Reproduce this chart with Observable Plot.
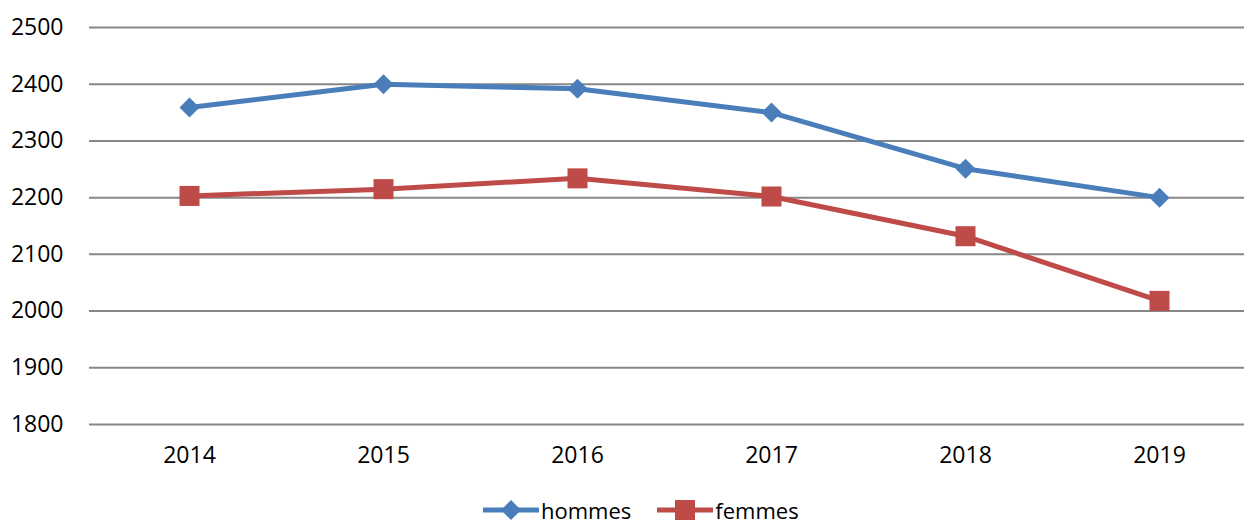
<!DOCTYPE html>
<html>
<head>
<meta charset="utf-8">
<script src="https://cdn.jsdelivr.net/npm/d3@7"></script>
<script src="https://cdn.jsdelivr.net/npm/@observablehq/plot@0.6"></script>
<style>
  html, body { margin: 0; padding: 0; background: #fff; }
  body { width: 1244px; height: 526px; position: relative; overflow: hidden; font-family: "Open Sans", sans-serif; }
  #legend { position: absolute; left: 483px; top: 497px; height: 26px; display: flex; align-items: center; font-size: 22px; line-height: 24px; color: #000; }
  #legend .item { display: flex; align-items: center; margin-right: 26px; }
  #legend svg { display: block; }
</style>
</head>
<body>
<div id="chart"></div>
<div id="legend"></div>
<script>
const years = ["2014", "2015", "2016", "2017", "2018", "2019"];
const hommes = [2359, 2400, 2392, 2350, 2251, 2200];
const femmes = [2203, 2215, 2234, 2202, 2132, 2018];
const yTicks = [1800, 1900, 2000, 2100, 2200, 2300, 2400, 2500];
const seriesNames = ["hommes", "femmes"];
const seriesColors = ["#4A7EBB", "#BE4B48"];
const seriesSymbols = ["diamond2", "square"];

const data = [];
years.forEach((y, i) => {
  data.push({year: y, value: hommes[i], serie: "hommes"});
  data.push({year: y, value: femmes[i], serie: "femmes"});
});

const chart = Plot.plot({
  width: 1244,
  height: 490,
  marginLeft: 89,
  marginRight: 0,
  marginTop: 27,
  marginBottom: 66,
  style: {fontSize: "23px", fontFamily: "'Open Sans', sans-serif", color: "#000", background: "#fff"},
  x: {type: "point", domain: years, range: [187, 1161], padding: 0, label: null, tickSize: 0, tickPadding: 22},
  y: {domain: [1800, 2500], ticks: yTicks, tickFormat: d => String(d), label: null, tickSize: 0, tickPadding: 26},
  color: {domain: seriesNames, range: seriesColors},
  symbol: {domain: seriesNames, range: seriesSymbols},
  marks: [
    Plot.ruleY(yTicks, {stroke: "#878787", strokeWidth: 2, strokeOpacity: 1}),
    Plot.line(data, {x: "year", y: "value", z: "serie", stroke: "serie", strokeWidth: 5}),
    Plot.dot(data.filter(d => d.serie === "hommes"), {x: "year", y: "value", symbol: "serie", fill: "serie", r: 9, stroke: "none"}),
    Plot.dot(data.filter(d => d.serie === "femmes"), {x: "year", y: "value", symbol: "serie", fill: "serie", r: 11.3, stroke: "none"})
  ]
});
document.getElementById("chart").appendChild(chart);

// Legend
const legend = d3.select("#legend");
seriesNames.forEach((name, i) => {
  const item = legend.append("div").attr("class", "item");
  const svg = item.append("svg").attr("width", 56).attr("height", 26);
  svg.append("line").attr("x1", 0).attr("x2", 56).attr("y1", 13).attr("y2", 13)
    .attr("stroke", seriesColors[i]).attr("stroke-width", 5);
  const sym = i === 0 ? d3.symbolDiamond2 : d3.symbolSquare;
  const size = i === 0 ? 255 : 400;
  svg.append("path").attr("d", d3.symbol(sym, size)()).attr("transform", "translate(28,13)")
    .attr("fill", seriesColors[i]);
  item.append("span").text(name).style("margin-left", "2px");
});
</script>
</body>
</html>
